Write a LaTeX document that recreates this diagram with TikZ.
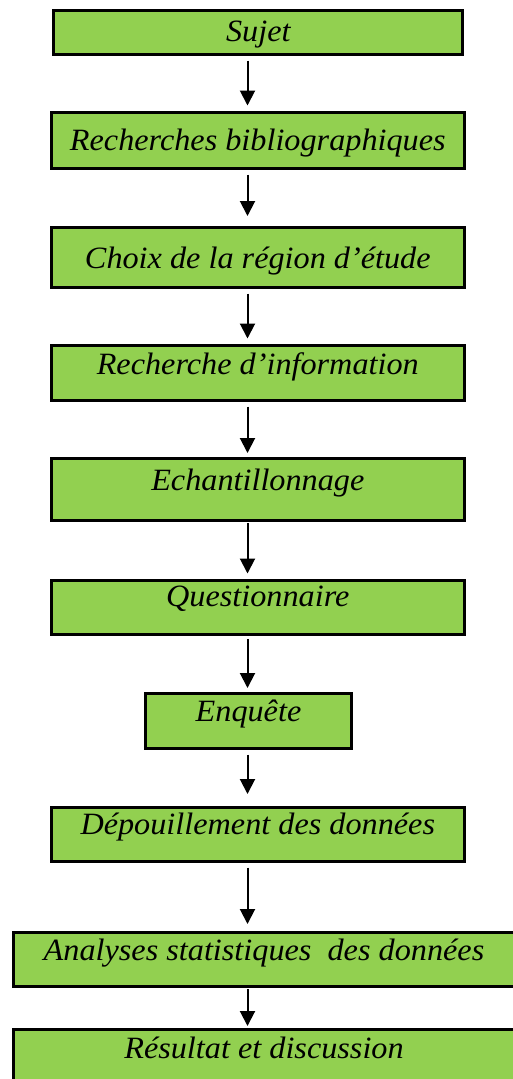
\documentclass[tikz,border=0pt]{standalone}
\usepackage{fontspec}
\setmainfont{Liberation Serif}[FakeStretch=1.04]
\usepackage{xcolor}
\usetikzlibrary{arrows.meta}
\definecolor{vert}{HTML}{92D050}

\begin{document}
\begin{tikzpicture}[x=1pt, y=-1pt]
    % Styles
    \tikzstyle{block} = [rectangle, draw, line width=3pt, fill=vert, inner sep=0pt, anchor=north, font=\fontsize{31}{34}\selectfont\itshape]
    \tikzstyle{arrow} = [line width=2pt, -{Triangle[length=15pt, width=15pt]}, shorten <=5pt, shorten >=5pt]

    \path [use as bounding box, fill=white] (0,0) rectangle (512,1079);

    % Nodes
    \node [block, minimum width=409pt, text height=31.2pt, text depth=12.5pt] (sujet) at (258.3,8.8) {Sujet};
    \node [block, minimum width=413.3pt, text height=38.5pt, text depth=17.5pt] (biblio) at (257.8,110.5) {Recherches bibliographiques};
    \node [block, minimum width=413.3pt, text height=41.2pt, text depth=18.8pt] (choix) at (257.8,225.5) {Choix de la région d’étude};
    \node [block, minimum width=413.3pt, text height=29.2pt, text depth=25.8pt] (info) at (257.8,343.5) {Recherche d’information};
    \node [block, minimum width=413.3pt, text height=32.5pt, text depth=29.5pt] (echant) at (257.8,456.5) {Echantillonnage};
    \node [block, minimum width=413.3pt, text height=26.5pt, text depth=27.5pt] (quest) at (257.8,578.5) {Questionnaire};
    \node [block, minimum width=206pt, text height=28.5pt, text depth=26.5pt] (enquete) at (248.5,691.5) {Enquête};
    \node [block, minimum width=413.3pt, text height=27.2pt, text depth=26.8pt] (depouil) at (257.8,805.5) {Dépouillement des données};
    \node [block, minimum width=501pt, text height=28.8pt, text depth=25.2pt] (analyse) at (264,930.5) {Analyses statistiques\ \ des données};
    \node [block, minimum width=501pt, text height=29.2pt, text depth=30pt] (resultat) at (264,1027.5) {Résultat et discussion};
    \coordinate (axe) at (247.5,0);

    % Arrows
    \draw [arrow] (sujet.south -| axe) -- (biblio.north -| axe);
    \draw [arrow, shorten >=9.5pt] (biblio.south -| axe) -- (choix.north -| axe);
    \draw [arrow] (choix.south -| axe) -- (info.north -| axe);
    \draw [arrow, shorten >=3.5pt] (info.south -| axe) -- (echant.north -| axe);
    \draw [arrow, shorten <=1.5pt] (echant.south -| axe) -- (quest.north -| axe);
    \draw [arrow, shorten <=3.5pt, shorten >=3.5pt] (quest.south -| axe) -- (enquete.north -| axe);
    \draw [arrow, shorten >=11.5pt] (enquete.south -| axe) -- (depouil.north -| axe);
    \draw [arrow, shorten >=6.5pt] (depouil.south -| axe) -- (analyse.north -| axe);
    \draw [arrow, shorten <=1.5pt, shorten >=1.5pt] (analyse.south -| axe) -- (resultat.north -| axe);
\end{tikzpicture}
\end{document}
